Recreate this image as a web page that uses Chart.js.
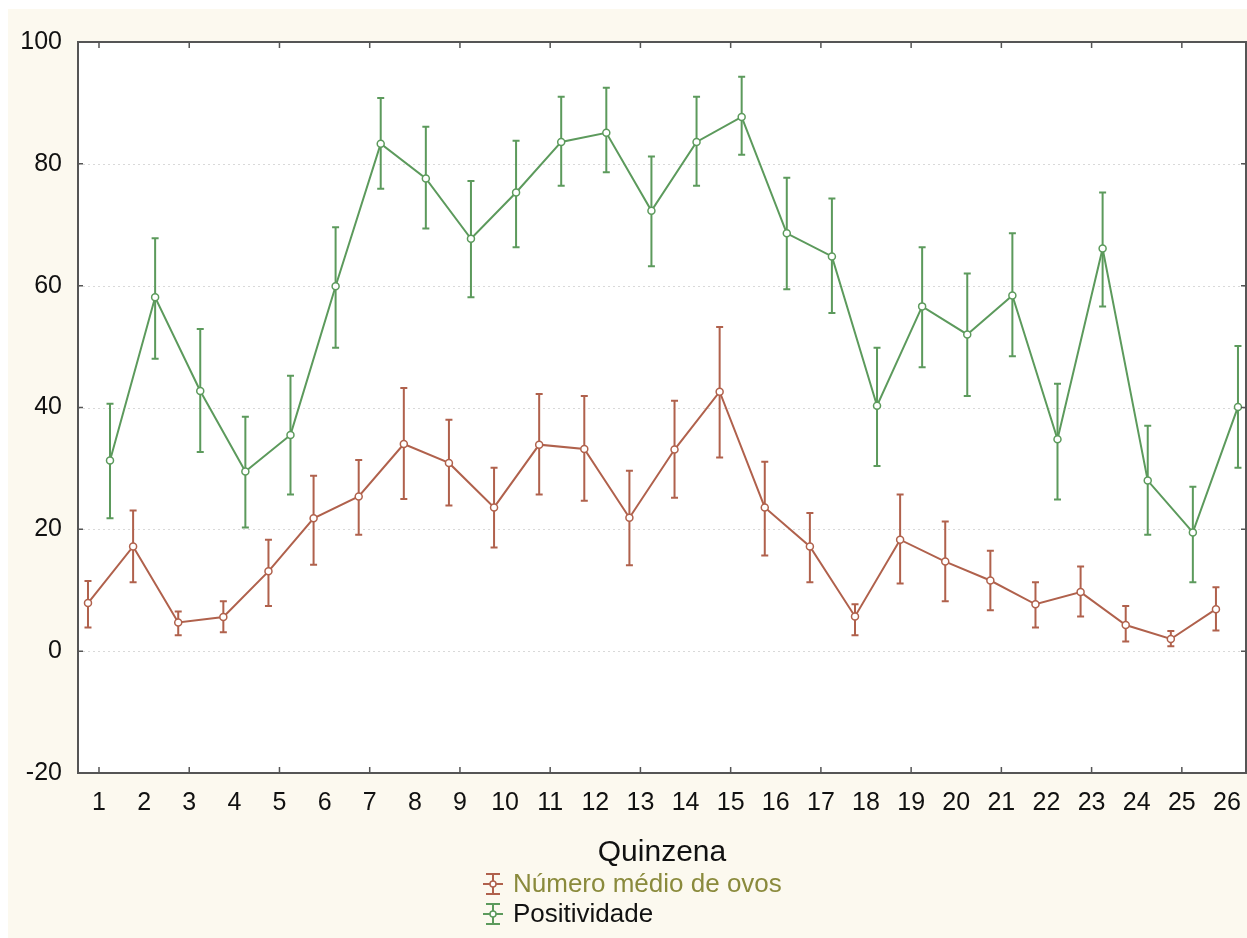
<!DOCTYPE html>
<html>
<head>
<meta charset="utf-8">
<script src="https://cdn.jsdelivr.net/npm/chart.js@4.4.1/dist/chart.umd.min.js"></script>
<style>
html,body{margin:0;padding:0;background:#fff;}
#wrap{position:relative;width:1247px;height:938px;}
canvas{display:block;}
</style>
</head>
<body>
<div id="wrap"><canvas id="c" width="1247" height="938"></canvas></div>
<script>
// ---------------- data ----------------
const quinzenas = ['1','2','3','4','5','6','7','8','9','10','11','12','13','14','15','16','17','18','19','20','21','22','23','24','25','26'];
const yTickValues = [-20, 0, 20, 40, 60, 80, 100];
const seriesNames = ['Número médio de ovos', 'Positividade'];

const ovosMean = [7.9, 17.2, 4.7, 5.6, 13.1, 21.8, 25.4, 34.0, 30.9, 23.6, 33.9, 33.2, 21.9, 33.1, 42.6, 23.6, 17.2, 5.7, 18.3, 14.7, 11.6, 7.7, 9.7, 4.3, 2.0, 6.9];
const ovosLow  = [3.9, 11.3, 2.6, 3.1, 7.4, 14.2, 19.1, 25.0, 23.9, 17.0, 25.7, 24.7, 14.1, 25.2, 31.8, 15.7, 11.3, 2.6, 11.1, 8.2, 6.7, 3.9, 5.7, 1.6, 0.8, 3.4];
const ovosHigh = [11.5, 23.1, 6.5, 8.2, 18.3, 28.8, 31.4, 43.2, 38.0, 30.1, 42.2, 41.9, 29.6, 41.1, 53.2, 31.1, 22.7, 7.7, 25.7, 21.3, 16.5, 11.3, 13.9, 7.4, 3.3, 10.5];

const posMean = [31.3, 58.1, 42.7, 29.5, 35.5, 59.9, 83.3, 77.6, 67.7, 75.3, 83.6, 85.1, 72.3, 83.6, 87.7, 68.6, 64.8, 40.3, 56.6, 52.0, 58.4, 34.8, 66.1, 28.0, 19.5, 40.1];
const posLow  = [21.8, 48.0, 32.7, 20.3, 25.7, 49.8, 75.9, 69.4, 58.1, 66.3, 76.4, 78.6, 63.2, 76.4, 81.5, 59.4, 55.5, 30.4, 46.6, 41.9, 48.4, 24.9, 56.6, 19.1, 11.3, 30.1];
const posHigh = [40.6, 67.8, 52.9, 38.5, 45.2, 69.6, 90.8, 86.1, 77.2, 83.8, 91.0, 92.5, 81.2, 91.0, 94.3, 77.7, 74.3, 49.8, 66.3, 62.0, 68.6, 43.9, 75.3, 37.0, 27.0, 50.1];

// ---------------- style ----------------
const RED = '#b0614c';
const GREEN = '#5c9a5c';
const FONT = "'Liberation Sans', Arial, Helvetica, sans-serif";
const DODGE = 0.244; // side-by-side offset of the two series within a category

function toPoints(values, shift) {
  return values.map((v, i) => ({ x: i + 1 + shift, y: v }));
}

const backgroundPlugin = {
  id: 'bg',
  beforeDraw(chart) {
    const { ctx, chartArea: a, width, height } = chart;
    ctx.save();
    ctx.fillStyle = '#ffffff';
    ctx.fillRect(0, 0, width, height);
    ctx.fillStyle = '#fcf9ef';
    ctx.fillRect(8, 9, width - 8, height - 9);
    ctx.fillStyle = '#ffffff';
    ctx.fillRect(a.left, a.top, a.right - a.left, a.bottom - a.top);
    // dotted horizontal grid
    const y = chart.scales.y;
    ctx.strokeStyle = '#d9d9d9';
    ctx.lineWidth = 1;
    ctx.setLineDash([2, 3]);
    yTickValues.forEach(v => {
      if (v === y.min || v === y.max) return;
      const py = Math.round(y.getPixelForValue(v)) + 0.5;
      ctx.beginPath();
      ctx.moveTo(a.left, py);
      ctx.lineTo(a.right, py);
      ctx.stroke();
    });
    ctx.restore();
  }
};

const errorBarPlugin = {
  id: 'errbars',
  beforeDatasetsDraw(chart) {
    const { ctx } = chart;
    const xs = chart.scales.x, ys = chart.scales.y;
    ctx.save();
    chart.data.datasets.forEach(ds => {
      ctx.strokeStyle = ds.borderColor;
      ctx.lineWidth = 2;
      ds.data.forEach((p, i) => {
        const px = xs.getPixelForValue(p.x);
        const lo = ys.getPixelForValue(ds.errLow[i]);
        const hi = ys.getPixelForValue(ds.errHigh[i]);
        ctx.beginPath();
        ctx.moveTo(px, lo); ctx.lineTo(px, hi);
        ctx.moveTo(px - 3.5, lo); ctx.lineTo(px + 3.5, lo);
        ctx.moveTo(px - 3.5, hi); ctx.lineTo(px + 3.5, hi);
        ctx.stroke();
      });
    });
    ctx.restore();
  }
};

const framePlugin = {
  id: 'frame',
  afterDraw(chart) {
    const { ctx, chartArea: a } = chart;
    const xs = chart.scales.x, ys = chart.scales.y;
    ctx.save();
    ctx.strokeStyle = '#555555';
    ctx.lineWidth = 2;
    ctx.strokeRect(a.left, a.top, a.right - a.left, a.bottom - a.top);
    ctx.lineWidth = 1.5;
    ctx.beginPath();
    quinzenas.forEach((q, i) => {
      if (i % 2 !== 0) return;
      const px = xs.getPixelForValue(i + 1);
      ctx.moveTo(px, a.top); ctx.lineTo(px, a.top + 6);
      ctx.moveTo(px, a.bottom); ctx.lineTo(px, a.bottom - 6);
    });
    yTickValues.forEach(v => {
      if (v === ys.min || v === ys.max) return;
      const py = ys.getPixelForValue(v);
      ctx.moveTo(a.left, py); ctx.lineTo(a.left + 5, py);
      ctx.moveTo(a.right, py); ctx.lineTo(a.right - 5, py);
    });
    ctx.stroke();

    // legend (vertical, centred under the axis title)
    const rows = [884, 914];
    const textColors = ['#8a8a3c', '#111111'];
    const cx = 493;
    chart.data.datasets.forEach((ds, i) => {
      const cy = rows[i];
      ctx.strokeStyle = ds.borderColor;
      ctx.lineWidth = 2;
      ctx.beginPath();
      ctx.moveTo(cx, cy - 10); ctx.lineTo(cx, cy + 10);
      ctx.moveTo(cx - 7, cy - 10); ctx.lineTo(cx + 7, cy - 10);
      ctx.moveTo(cx - 7, cy + 10); ctx.lineTo(cx + 7, cy + 10);
      ctx.moveTo(cx - 10, cy); ctx.lineTo(cx + 10, cy);
      ctx.stroke();
      ctx.fillStyle = '#ffffff';
      ctx.lineWidth = 1.5;
      ctx.beginPath();
      ctx.arc(cx, cy, 3, 0, Math.PI * 2);
      ctx.fill(); ctx.stroke();
      ctx.fillStyle = textColors[i];
      ctx.font = '26px ' + FONT;
      ctx.textAlign = 'left';
      ctx.textBaseline = 'middle';
      ctx.fillText(ds.label, 513, cy + 1);
    });
    ctx.restore();
  }
};

function makeDataset(label, color, mean, low, high, shift) {
  return {
    label: label,
    data: toPoints(mean, shift),
    errLow: low,
    errHigh: high,
    borderColor: color,
    backgroundColor: color,
    borderWidth: 2,
    pointRadius: 3.5,
    pointBorderWidth: 1.5,
    pointBackgroundColor: '#ffffff',
    pointBorderColor: color,
    tension: 0,
    fill: false
  };
}

new Chart(document.getElementById('c'), {
  type: 'line',
  data: {
    datasets: [
      makeDataset(seriesNames[0], RED, ovosMean, ovosLow, ovosHigh, -DODGE),
      makeDataset(seriesNames[1], GREEN, posMean, posLow, posHigh, DODGE)
    ]
  },
  options: {
    responsive: false,
    animation: false,
    devicePixelRatio: 1,
    layout: { autoPadding: false, padding: { left: 0, right: 1, top: 42, bottom: 0 } },
    plugins: { legend: { display: false }, tooltip: { enabled: false } },
    scales: {
      x: {
        type: 'linear',
        position: 'bottom',
        min: 0.5346,
        max: 26.422,
        grid: { display: false, drawTicks: false },
        border: { display: false },
        afterBuildTicks: s => { s.ticks = quinzenas.map((_, i) => ({ value: i + 1 })); },
        afterFit: s => { s.height = 165; s.paddingLeft = 0; s.paddingRight = 0; },
        ticks: {
          autoSkip: false,
          maxRotation: 0,
          padding: 15,
          color: '#111111',
          font: { family: FONT, size: 25 },
          callback: v => quinzenas[Math.round(v) - 1]
        },
        title: {
          display: true,
          text: 'Quinzena',
          color: '#111111',
          font: { family: FONT, size: 30 },
          padding: { top: 0, bottom: 67 }
        }
      },
      y: {
        min: -20,
        max: 100,
        grid: { display: false, drawTicks: false },
        border: { display: false },
        afterBuildTicks: s => { s.ticks = yTickValues.map(v => ({ value: v })); },
        afterFit: s => { s.width = 78; s.paddingTop = 0; s.paddingBottom = 0; },
        ticks: {
          padding: 16,
          color: '#111111',
          font: { family: FONT, size: 25 }
        }
      }
    }
  },
  plugins: [backgroundPlugin, errorBarPlugin, framePlugin]
});
</script>
</body>
</html>
